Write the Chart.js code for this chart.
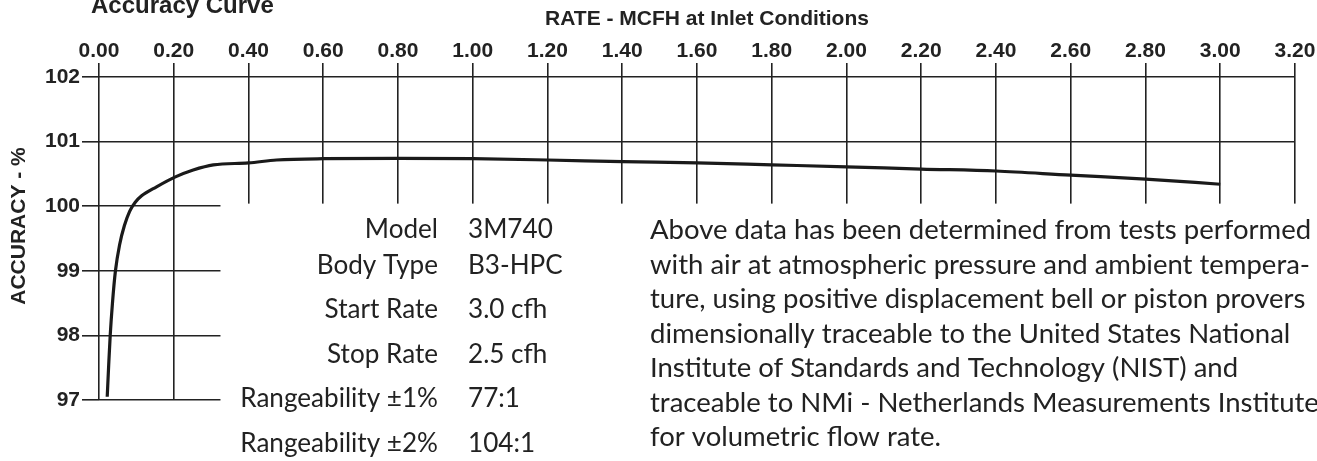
<!DOCTYPE html>
<html>
<head>
<meta charset="utf-8">
<title>Accuracy Curve</title>
<script src="https://cdn.jsdelivr.net/npm/chart.js@4/dist/chart.umd.min.js"></script>
<style>
  body { margin: 0; background: #fff; }
  canvas { display: block; }
</style>
</head>
<body>
<canvas id="my-chart" width="1317" height="461"></canvas>
<script>
'use strict';

// ***** CHART DATA *****

let rateValues = [0.022, 0.026, 0.030, 0.036, 0.044, 0.055, 0.068, 0.082, 0.097, 0.114, 0.154, 0.203, 0.252, 0.306, 0.40, 0.475, 0.60, 0.80, 1.00, 1.20, 1.40, 1.60, 1.80, 2.00, 2.20, 2.40, 2.60, 2.80, 3.00];
let accuracyValues = [97.05, 97.55, 98.0, 98.5, 99.0, 99.4, 99.7, 99.92, 100.06, 100.16, 100.30, 100.45, 100.56, 100.64, 100.67, 100.715, 100.735, 100.74, 100.735, 100.715, 100.69, 100.67, 100.64, 100.61, 100.575, 100.545, 100.48, 100.42, 100.34];

let rateRange = [0, 3.2];
let accuracyRange = [97, 102];

let specLabels = ['Model', 'Body Type', 'Start Rate', 'Stop Rate', 'Rangeability ±1%', 'Rangeability ±2%'];
let specValues = ['3M740', 'B3-HPC', '3.0 cfh', '2.5 cfh', '77:1', '104:1'];

let noteLines = [
  'Above data has been determined from tests performed',
  'with air at atmospheric pressure and ambient tempera-',
  'ture, using positive displacement bell or piston provers',
  'dimensionally traceable to the United States National',
  'Institute of Standards and Technology (NIST) and',
  'traceable to NMi - Netherlands Measurements Institute',
  'for volumetric flow rate.'
];

// ***** CANVAS REFERENCE *****

let ctx = document.getElementById('my-chart').getContext('2d');

// ***** HELPER FUNCTIONS *****

let inkColor = '#222';
let bodyFont = 'Lato, "Open Sans", sans-serif';
let headFont = '"Liberation Sans", Arial, sans-serif';

// size a font so that a given text fills a given width
function fitFontSize(c, text, width, family){
  c.font = '100px ' + family;
  return 100 * width / c.measureText(text).width;
}

let curvePoints = [];
for(let i = 0; i < rateValues.length; i++){
  curvePoints.push({x: rateValues[i], y: accuracyValues[i]});
}

// ***** PAGE TEXT PLUGIN *****

let pageText = {
  id: 'pageText',

  // blank out the grid under the text blocks, before the curve is drawn
  beforeDatasetsDraw(chart){
    let c = chart.ctx;
    let left = chart.scales.x.getPixelForValue(0.325);
    let top = chart.scales.y.getPixelForValue(100.04);
    c.save();
    c.fillStyle = '#fff';
    c.fillRect(left, top, chart.width - left, chart.height - top);
    c.restore();
  },

  afterDraw(chart){
    let c = chart.ctx;
    c.save();
    c.fillStyle = inkColor;
    c.textBaseline = 'alphabetic';

    // title, cut off at the top like the original
    c.font = 'bold 24px ' + headFont;
    c.textAlign = 'left';
    c.fillText('Accuracy Curve', 91, 13);

    // axis titles
    c.font = 'bold 21px ' + headFont;
    c.textAlign = 'center';
    c.fillText('RATE - MCFH at Inlet Conditions', 707, 25);

    c.save();
    c.translate(25, 226);
    c.rotate(-Math.PI / 2);
    c.fillText('ACCURACY - %', 0, 0);
    c.restore();

    // spec table
    let specSize = fitFontSize(c, 'Rangeability ±2%', 198, bodyFont);
    let specBaselines = [238, 274, 318, 363, 407, 452];
    c.font = specSize.toFixed(1) + 'px ' + bodyFont;
    for(let i = 0; i < specLabels.length; i++){
      c.textAlign = 'right';
      c.fillText(specLabels[i], 438, specBaselines[i]);
      c.textAlign = 'left';
      c.fillText(specValues[i], 468, specBaselines[i]);
    }

    // note paragraph
    let noteSize = fitFontSize(c, noteLines[0], 660, bodyFont);
    c.font = noteSize.toFixed(1) + 'px ' + bodyFont;
    c.textAlign = 'left';
    for(let i = 0; i < noteLines.length; i++){
      c.fillText(noteLines[i], 650, 239 + i * 34.5);
    }

    c.restore();
  }
};

// ***** RENDER CHART *****

let tickFont = {family: headFont, size: 21, weight: 'bold', lineHeight: 1};

let myChartObj = {
  type: 'line',
  data: {
    datasets: [{
      label: 'Accuracy',
      data: curvePoints,
      borderColor: '#1a1a1a',
      borderWidth: 3.2,
      pointRadius: 0,
      fill: false,
      cubicInterpolationMode: 'monotone'
    }]
  },
  options: {
    responsive: false,
    devicePixelRatio: 1,
    animation: false,
    layout: {
      padding: {left: 0, right: 22, top: 0, bottom: 61}
    },
    plugins: {
      legend: {display: false},
      tooltip: {enabled: false}
    },
    scales: {
      x: {
        type: 'linear',
        position: 'top',
        min: rateRange[0],
        max: rateRange[1],
        ticks: {
          stepSize: 0.2,
          color: inkColor,
          font: tickFont,
          padding: 1,
          maxRotation: 0,
          callback: function(value){
            return Number(value).toFixed(2);
          }
        },
        grid: {
          color: inkColor,
          lineWidth: 1.6,
          tickLength: 14
        },
        border: {display: false},
        afterFit: function(scale){
          scale.height = 77;
        }
      },
      y: {
        min: accuracyRange[0],
        max: accuracyRange[1],
        ticks: {
          stepSize: 1,
          color: inkColor,
          font: tickFont,
          padding: 2
        },
        grid: {
          color: inkColor,
          lineWidth: 1.6,
          tickLength: 17
        },
        border: {display: false},
        afterFit: function(scale){
          scale.width = 99;
        }
      }
    }
  },
  plugins: [pageText]
};

new Chart(ctx, myChartObj);
</script>
</body>
</html>
